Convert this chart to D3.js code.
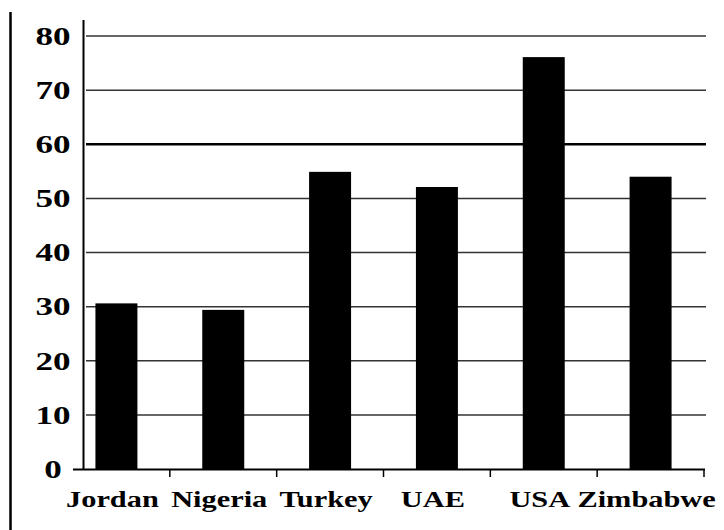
<!DOCTYPE html>
<html>
<head>
<meta charset="utf-8">
<script src="https://cdn.jsdelivr.net/npm/d3@7"></script>
<style>
  html, body { margin: 0; padding: 0; background: #fff; }
  svg { display: block; }
</style>
</head>
<body>
<svg id="chart" width="724" height="530"></svg>
<script>
const categories = ["Jordan", "Nigeria", "Turkey", "UAE", "USA", "Zimbabwe"];
const values = [30.6, 29.4, 54.9, 52.1, 76.1, 54.0];
const yTicks = [0, 10, 20, 30, 40, 50, 60, 70, 80];

const FONT = "Liberation Serif";
const svg = d3.select("#chart");

const x = d3.scaleBand().domain(categories).range([63, 704]).padding(0);
const y = d3.scaleLinear().domain([0, 80]).range([469, 36]);
const bw = x.bandwidth();
const barW = bw * 0.393;
const stretch = 1.35;

// left border line
svg.append("line")
  .attr("x1", 10.5).attr("x2", 10.5).attr("y1", 12).attr("y2", 530)
  .attr("stroke", "#000").attr("stroke-width", 2.5);

// gridlines
svg.append("g").selectAll("line")
  .data(yTicks.filter(d => d > 0))
  .join("line")
  .attr("x1", 86).attr("x2", 706)
  .attr("y1", d => y(d)).attr("y2", d => y(d))
  .attr("stroke", d => d === 60 ? "#000" : "#333")
  .attr("stroke-width", d => d === 60 ? 2.6 : 1.5);

// bars
svg.append("g").selectAll("rect")
  .data(categories)
  .join("rect")
  .attr("x", d => x(d) + (bw - barW) / 2)
  .attr("width", barW)
  .attr("y", (d, i) => y(values[i]))
  .attr("height", (d, i) => y(0) - y(values[i]))
  .attr("fill", "#000");

// y axis line
svg.append("line")
  .attr("x1", 83.5).attr("x2", 83.5).attr("y1", 20).attr("y2", 470)
  .attr("stroke", "#000").attr("stroke-width", 2);

// x axis line
svg.append("line")
  .attr("x1", 73).attr("x2", 705).attr("y1", 469.5).attr("y2", 469.5)
  .attr("stroke", "#000").attr("stroke-width", 2);

// x axis ticks at band boundaries
svg.append("g").selectAll("line")
  .data(categories)
  .join("line")
  .attr("x1", d => x(d) + bw).attr("x2", d => x(d) + bw)
  .attr("y1", 469).attr("y2", 477)
  .attr("stroke", "#000").attr("stroke-width", 1.5);

// y tick labels
svg.append("g").selectAll("text")
  .data(yTicks)
  .join("text")
  .attr("transform", d => `translate(53,${y(d)}) scale(${stretch},1)`)
  .attr("text-anchor", "middle")
  .attr("dy", "0.34em")
  .style("font-family", FONT)
  .style("font-weight", "bold")
  .style("font-size", "26px")
  .attr("fill", "#000")
  .text(d => d);

// category labels
svg.append("g").selectAll("text")
  .data(categories)
  .join("text")
  .attr("transform", d => `translate(${x(d) + bw / 2 - 4},507) scale(${stretch},1)`)
  .attr("text-anchor", "middle")
  .style("font-family", FONT)
  .style("font-weight", "bold")
  .style("font-size", "22.5px")
  .attr("fill", "#000")
  .text(d => d);
</script>
</body>
</html>
